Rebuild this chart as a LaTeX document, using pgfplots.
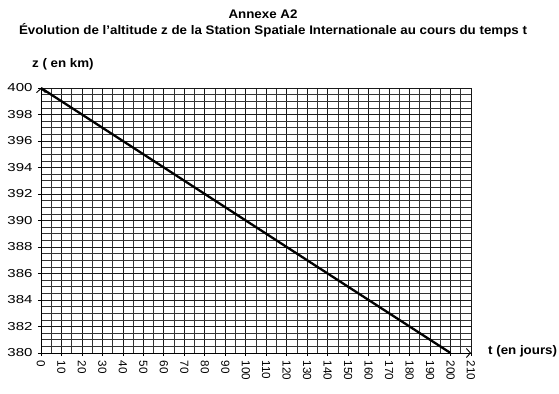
\documentclass[border=0pt]{standalone}
\usepackage{pgfplots}
\pgfplotsset{compat=1.18}
\usepackage{fontspec}
\setmainfont{Liberation Sans}
\newfontfamily\wideytick[FakeStretch=1.3]{Liberation Sans}
\newfontfamily\titlefont[FakeStretch=1.07]{Liberation Sans Bold}
\usetikzlibrary{arrows.meta}
\begin{document}
\begin{tikzpicture}
\useasboundingbox (-41bp,-41bp) rectangle (518bp,353bp);
\begin{axis}[
  at={(0,0)}, anchor=south west,
  scale only axis, width=430bp, height=265bp,
  xmin=0, xmax=210, ymin=380, ymax=400,
  axis lines=left,
  axis line style={line width=0.9pt, -{Straight Barb[length=4bp,width=9bp]}},
  xtick={0,10,...,210}, minor xtick={5,15,...,205},
  ytick={380,382,...,400}, minor ytick={380.5,381,...,399.5},
  grid=both,
  major grid style={black!90, line width=0.75pt},
  minor grid style={black!80, line width=0.7pt},
  tick align=outside, major tick length=3bp, minor tick length=0pt,
  tick style={black, line width=0.8pt},
  xticklabel style={rotate=-90, anchor=west, font=\fontsize{11.7}{13}\selectfont, xshift=1bp},
  yticklabel style={font=\wideytick\fontsize{11.6}{13}\selectfont, xshift=-2bp},
  /pgf/number format/assume math mode=true,
  /pgf/number format/1000 sep={},
  clip=false,
]
\addplot[black, line width=2.3pt] coordinates {(0,400) (200,380)};
\end{axis}
\node[font=\titlefont\fontsize{12.5}{14}\selectfont] at (222bp,339bp) {Annexe A2};
\node[font=\titlefont\fontsize{12.5}{14}\selectfont] at (232bp,323bp) {Évolution de l’altitude z de la Station Spatiale Internationale au cours du temps t};
\node[font=\titlefont\fontsize{12.5}{14}\selectfont, anchor=west, inner sep=0pt] at (-9bp,289bp) {z ( en km)};
\node[font=\titlefont\fontsize{12.5}{14}\selectfont, anchor=west, inner sep=0pt] at (447bp,2bp) {t (en jours)};
\end{tikzpicture}
\end{document}
